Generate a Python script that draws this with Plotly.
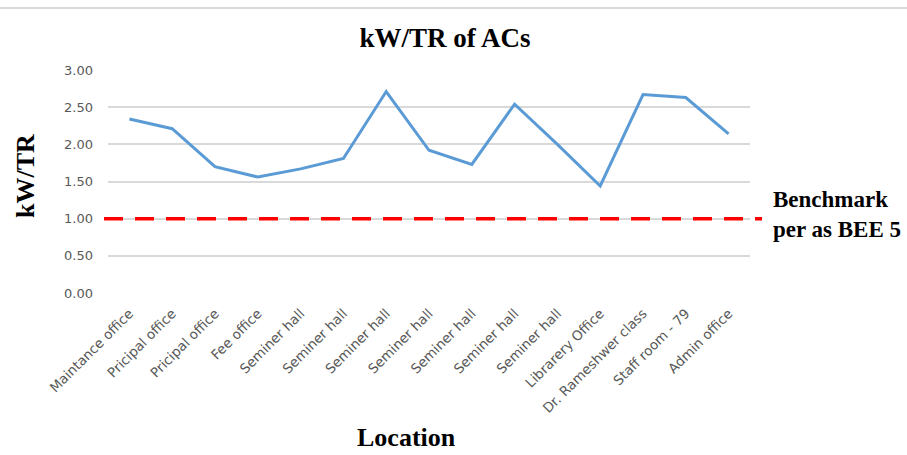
import plotly.graph_objects as go

# Measured kW/TR for each air-conditioner location
locations = [
    "Maintance office", "Pricipal office", "Pricipal office", "Fee office",
    "Seminer hall", "Seminer hall", "Seminer hall", "Seminer hall",
    "Seminer hall", "Seminer hall", "Seminer hall", "Librarery Office",
    "Dr. Rameshwer class", "Staff room - 79", "Admin office",
]
kw_per_tr = [2.34, 2.21, 1.70, 1.56, 1.67, 1.81, 2.71, 1.92,
             1.73, 2.54, 2.00, 1.44, 2.67, 2.63, 2.14]
benchmark = 1.00
y_ticks = [0.0, 0.5, 1.0, 1.5, 2.0, 2.5, 3.0]

# Category positions are indices so repeated labels stay separate points
x_idx = list(range(len(locations)))

W, H = 907, 455
L, R, T, B = 108, 157, 70, 162
pw, ph = W - L - R, H - T - B

def px_x(px):
    return (px - L) / pw

def px_y(py):
    return (H - B - py) / ph

serif = "Liberation Serif"
x_tick_font = dict(family="DejaVu Sans", size=13.5, color="#595959")
y_tick_font = dict(family="DejaVu Sans", size=13, color="#595959")

fig = go.Figure()
fig.add_trace(go.Scatter(
    x=x_idx, y=kw_per_tr, mode="lines",
    line=dict(color="#5B9BD5", width=3),
    showlegend=False, hoverinfo="y",
))

fig.update_layout(
    width=W, height=H,
    margin=dict(l=L, r=R, t=T, b=B),
    paper_bgcolor="white", plot_bgcolor="white",
    title=dict(
        text="kW/TR of ACs", x=445 / W, xanchor="center",
        y=1 - 38 / H, yanchor="middle",
        font=dict(family=serif, size=27, color="black", weight="bold"),
    ),
    xaxis=dict(
        range=[-0.5, len(locations) - 0.5],
        tickvals=x_idx, ticktext=locations, tickangle=-45,
        tickfont=x_tick_font, showgrid=False, zeroline=False,
        showline=False, ticks="", ticklabelstandoff=9,
    ),
    yaxis=dict(
        range=[0, 3], tickvals=y_ticks, tickformat=".2f",
        tickfont=y_tick_font, showgrid=True, gridcolor="#d9d9d9",
        gridwidth=1.5, zeroline=False, showline=False, ticks="",
        ticklabelstandoff=14,
    ),
    shapes=[
        dict(type="line", xref="paper", yref="y",
             x0=px_x(104), x1=px_x(762), y0=benchmark, y1=benchmark,
             line=dict(color="#FF0000", width=3.5, dash="19px,12px")),
        dict(type="line", xref="paper", yref="paper",
             x0=px_x(0), x1=px_x(W), y0=px_y(8), y1=px_y(8),
             line=dict(color="#d9d9d9", width=2)),
    ],
    annotations=[
        dict(text="kW/TR", xref="paper", yref="paper",
             x=px_x(25), y=px_y(176), textangle=-90, showarrow=False,
             xanchor="center", yanchor="middle",
             font=dict(family=serif, size=26, color="black", weight="bold")),
        dict(text="Location", xref="paper", yref="paper",
             x=px_x(406), y=px_y(437), showarrow=False,
             xanchor="center", yanchor="middle",
             font=dict(family=serif, size=26, color="black", weight="bold")),
        dict(text="Benchmark<br>per as BEE 5", xref="paper", yref="paper",
             x=px_x(771), y=px_y(214), showarrow=False, align="left",
             xanchor="left", yanchor="middle",
             font=dict(family=serif, size=23, color="black", weight="bold")),
    ],
)

fig.write_html("out.html")
